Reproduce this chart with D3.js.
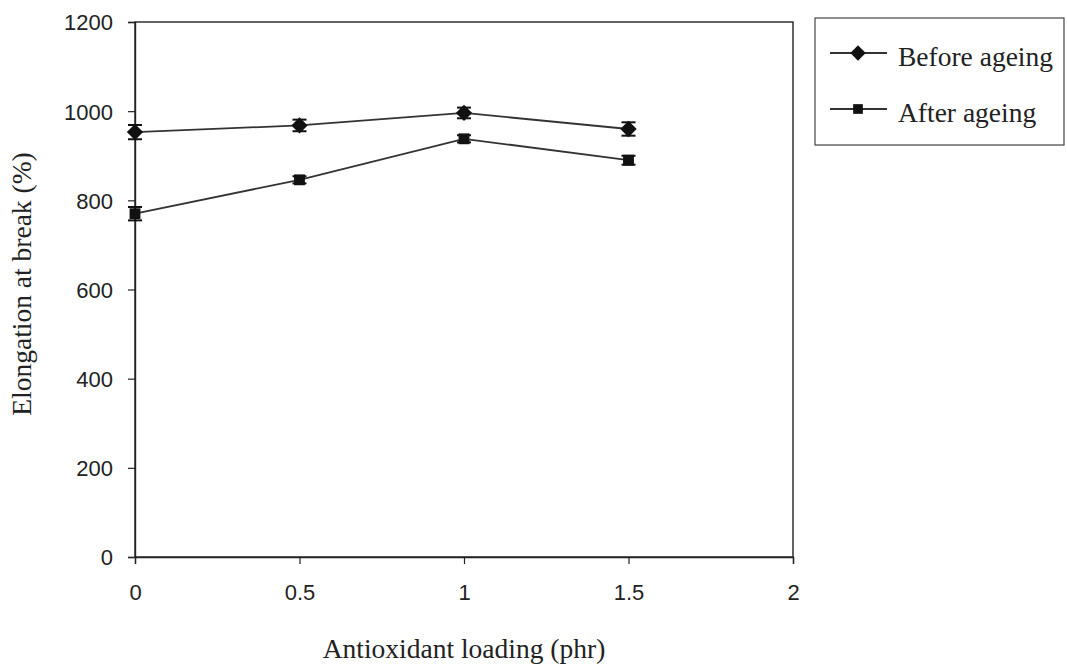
<!DOCTYPE html>
<html>
<head>
<meta charset="utf-8">
<script src="https://cdn.jsdelivr.net/npm/d3@7"></script>
<style>
  body { margin: 0; background: #fff; }
</style>
</head>
<body>
<svg id="chart" width="1067" height="668"></svg>
<script>
// loading levels (phr)
var loading = [0, 0.5, 1, 1.5];
var beforeAgeing = [953, 968, 996, 960];
var beforeErr = [16, 13, 12, 15];
var afterAgeing = [770, 846, 938, 890];
var afterErr = [15, 8, 8, 10];
var xTicks = [0, 0.5, 1, 1.5, 2];
var yTicks = [0, 200, 400, 600, 800, 1000, 1200];

var svg = d3.select("#chart");
var plotLeft = 135, plotRight = 793, plotTop = 22, plotBottom = 557;
var serif = "Liberation Serif, Times New Roman, serif";

var x = d3.scaleLinear().domain([0, 2]).range([plotLeft, plotRight]);
var y = d3.scaleLinear().domain([0, 1200]).range([plotBottom, plotTop]);

// plot frame
svg.append("rect")
    .attr("x", plotLeft).attr("y", plotTop)
    .attr("width", plotRight - plotLeft).attr("height", plotBottom - plotTop)
    .attr("fill", "none").attr("stroke", "#222").attr("stroke-width", 1.4);

var xAxis = svg.append("g")
    .attr("transform", "translate(0," + plotBottom + ")")
    .call(d3.axisBottom(x).tickValues(xTicks).tickSize(7).tickPadding(20)
        .tickFormat(function (d) { return d; }));
var yAxis = svg.append("g")
    .attr("transform", "translate(" + plotLeft + ",0)")
    .call(d3.axisLeft(y).tickValues(yTicks).tickSize(7).tickPadding(15)
        .tickFormat(function (d) { return d; }));

[xAxis, yAxis].forEach(function (g) {
    g.select(".domain").attr("stroke", "#222").attr("stroke-width", 1.4);
    g.selectAll(".tick line").attr("stroke", "#222").attr("stroke-width", 1.2);
    g.selectAll(".tick text")
        .attr("fill", "#222")
        .style("font-family", "Liberation Sans, Arial, sans-serif")
        .style("font-size", "22px");
});
yAxis.selectAll(".tick text").attr("dy", "0.36em");

// axis titles
svg.append("text")
    .attr("x", 464).attr("y", 658)
    .attr("text-anchor", "middle")
    .style("font-family", serif)
    .style("font-size", "27.5px").attr("fill", "#222")
    .text("Antioxidant loading (phr)");
svg.append("text")
    .attr("transform", "translate(31,284) rotate(-90)")
    .attr("text-anchor", "middle")
    .style("font-family", serif)
    .style("font-size", "27.5px").attr("fill", "#222")
    .text("Elongation at break (%)");

var series = [
    { name: "Before ageing", values: beforeAgeing, err: beforeErr, shape: d3.symbolDiamond2 },
    { name: "After ageing", values: afterAgeing, err: afterErr, shape: d3.symbolSquare2 }
];

var line = d3.line()
    .x(function (d) { return x(d[0]); })
    .y(function (d) { return y(d[1]); });

series.forEach(function (s) {
    var pts = loading.map(function (l, i) { return [l, s.values[i], s.err[i]]; });

    svg.append("path")
        .datum(pts)
        .attr("d", line)
        .attr("fill", "none").attr("stroke", "#333").attr("stroke-width", 1.8);

    var eb = svg.append("g").selectAll("g").data(pts).enter().append("g");
    eb.append("line")
        .attr("x1", function (d) { return x(d[0]); })
        .attr("x2", function (d) { return x(d[0]); })
        .attr("y1", function (d) { return y(d[1] + d[2]); })
        .attr("y2", function (d) { return y(d[1] - d[2]); })
        .attr("stroke", "#111").attr("stroke-width", 1.6);
    [1, -1].forEach(function (sgn) {
        eb.append("line")
            .attr("x1", function (d) { return x(d[0]) - 7; })
            .attr("x2", function (d) { return x(d[0]) + 7; })
            .attr("y1", function (d) { return y(d[1] + sgn * d[2]); })
            .attr("y2", function (d) { return y(d[1] + sgn * d[2]); })
            .attr("stroke", "#111").attr("stroke-width", 2);
    });

    svg.append("g").selectAll("path").data(pts).enter().append("path")
        .attr("transform", function (d) { return "translate(" + x(d[0]) + "," + y(d[1]) + ")"; })
        .attr("d", d3.symbol().type(s.shape).size(s.shape === d3.symbolSquare2 ? 150 : 170))
        .attr("fill", "#111");
});

// legend
var legend = svg.append("g");
legend.append("rect")
    .attr("x", 815).attr("y", 18).attr("width", 249).attr("height", 127)
    .attr("fill", "#fff").attr("stroke", "#444").attr("stroke-width", 1.2);

var legendY = [53, 109];
series.forEach(function (s, i) {
    legend.append("line")
        .attr("x1", 830).attr("x2", 887)
        .attr("y1", legendY[i]).attr("y2", legendY[i])
        .attr("stroke", "#333").attr("stroke-width", 1.8);
    legend.append("path")
        .attr("transform", "translate(858," + legendY[i] + ")")
        .attr("d", d3.symbol().type(s.shape).size(s.shape === d3.symbolSquare2 ? 120 : 150))
        .attr("fill", "#111");
    legend.append("text")
        .attr("x", 898).attr("y", legendY[i] + 13)
        .style("font-family", serif)
        .style("font-size", "27.5px").attr("fill", "#222")
        .text(s.name);
});
</script>
</body>
</html>
